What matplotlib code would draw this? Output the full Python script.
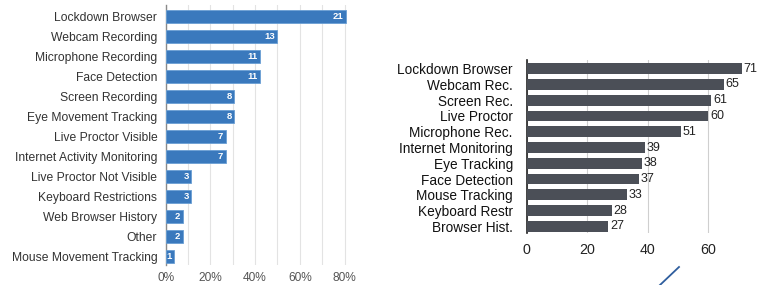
import matplotlib
matplotlib.use("Agg")
import matplotlib.pyplot as plt
from matplotlib.lines import Line2D

plt.rcParams['font.family'] = ['Liberation Sans', 'DejaVu Sans']

# Left chart data (counts out of 26 respondents)
left_categories = ["Lockdown Browser", "Webcam Recording", "Microphone Recording",
                   "Face Detection", "Screen Recording", "Eye Movement Tracking",
                   "Live Proctor Visible", "Internet Activity Monitoring",
                   "Live Proctor Not Visible", "Keyboard Restrictions",
                   "Web Browser History", "Other", "Mouse Movement Tracking"]
left_counts = [21, 13, 11, 11, 8, 8, 7, 7, 3, 3, 2, 2, 1]
left_total = 26
left_ticks = [0, 0.2, 0.4, 0.6, 0.8]
left_ticklabels = ["0%", "20%", "40%", "60%", "80%"]

# Right chart data
right_categories = ["Lockdown Browser", "Webcam Rec.", "Screen Rec.", "Live Proctor",
                    "Microphone Rec.", "Internet Monitoring", "Eye Tracking",
                    "Face Detection", "Mouse Tracking", "Keyboard Restr", "Browser Hist."]
right_values = [71, 65, 61, 60, 51, 39, 38, 37, 33, 28, 27]
right_ticks = [0, 20, 40, 60]

fig = plt.figure(figsize=(7.59, 2.85), dpi=100)

# ---- Left chart ----
axL = fig.add_axes([0.2183, 0.0702, 0.2415, 0.9123])
left_share = [c / left_total for c in left_counts]
yL = list(range(len(left_categories)))
axL.barh(yL, left_share, height=0.62, color="#3a79bd", edgecolor="#6a9fd4",
         linewidth=0.6, zorder=3)
for y, s, c in zip(yL, left_share, left_counts):
    axL.text(s - 0.012, y, str(c), ha="right", va="center", color="white",
             fontsize=6.8, fontweight="bold", zorder=4)
axL.set_xlim(0, 0.82)
axL.set_ylim(len(left_categories) - 1 + 0.415, -0.585)
axL.set_yticks(yL)
axL.set_yticklabels(left_categories, fontsize=8.7, color="#333333")
axL.set_xticks(left_ticks)
axL.set_xticklabels(left_ticklabels, fontsize=8.6, color="#555555")
axL.set_xticks([0.1, 0.3, 0.5, 0.7], minor=True)
axL.grid(axis="x", which="both", color="#e3e3e3", linewidth=0.8, zorder=0)
axL.tick_params(axis="both", which="both", length=0)
axL.tick_params(axis="y", pad=6)
axL.tick_params(axis="x", pad=5)
for sp in ["top", "right", "bottom"]:
    axL.spines[sp].set_visible(False)
axL.spines["left"].set_color("#8a8a8a")
axL.spines["left"].set_linewidth(1.0)

# ---- Right chart ----
axR = fig.add_axes([0.6939, 0.1814, 0.2914, 0.6081])
yR = list(range(len(right_categories)))
axR.barh(yR, right_values, height=0.68, color="#4b4f57", zorder=3)
for y, v in zip(yR, right_values):
    axR.text(v + 0.6, y, str(v), ha="left", va="center", color="#222222",
             fontsize=9, zorder=4)
axR.set_xlim(0, 73)
axR.set_ylim(len(right_categories) - 1 + 0.44, -0.55)
axR.set_yticks(yR)
axR.set_yticklabels(right_categories, fontsize=9.8, color="#111111")
axR.set_xticks(right_ticks)
axR.set_xticklabels([str(t) for t in right_ticks], fontsize=10.3, color="#222222")
axR.grid(axis="x", color="#cfcfcf", linewidth=0.8, zorder=0)
axR.tick_params(axis="both", length=0)
axR.tick_params(axis="y", pad=10)
axR.tick_params(axis="x", pad=7)
for sp in ["top", "right", "bottom"]:
    axR.spines[sp].set_visible(False)
axR.spines["left"].set_color("#222222")
axR.spines["left"].set_linewidth(1.2)

# decorative diagonal stroke at the bottom
fig.add_artist(Line2D([660 / 759, 679 / 759], [0.0, 18 / 285],
                      transform=fig.transFigure, color="#2f5e9e", linewidth=1.3))

fig.savefig("out.png", dpi=100)
